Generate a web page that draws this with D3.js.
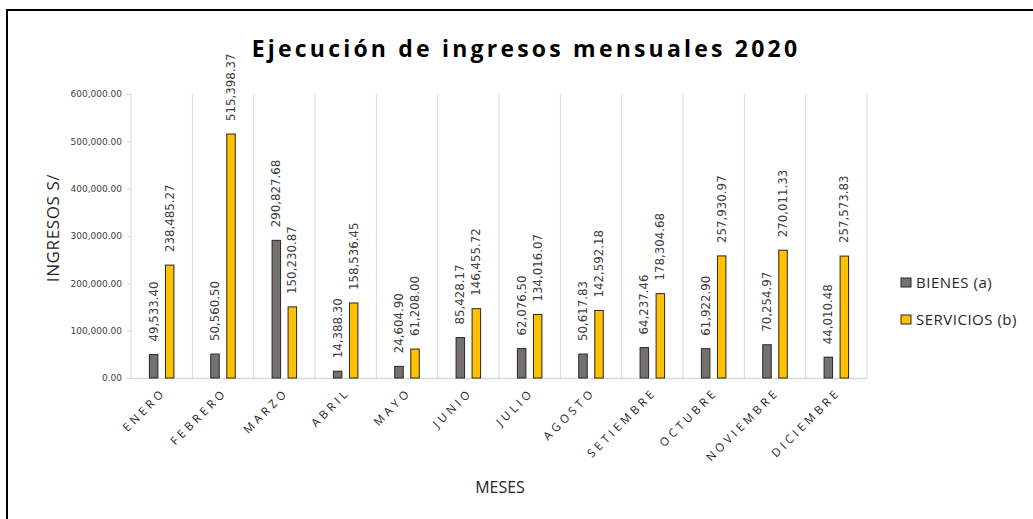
<!DOCTYPE html>
<html>
<head>
<meta charset="utf-8">
<script src="https://cdn.jsdelivr.net/npm/d3@7"></script>
<style>
  html, body { margin: 0; padding: 0; background: #fff; }
  svg { display: block; }
</style>
</head>
<body>
<div id="chart"></div>
<script>
// valores
var meses = ["ENERO", "FEBRERO", "MARZO", "ABRIL", "MAYO", "JUNIO", "JULIO", "AGOSTO", "SETIEMBRE", "OCTUBRE", "NOVIEMBRE", "DICIEMBRE"];
var bienes = [49533.40, 50560.50, 290827.68, 14388.30, 24604.90, 85428.17, 62076.50, 50617.83, 64237.46, 61922.90, 70254.97, 44010.48];
var servicios = [238485.27, 515398.37, 150230.87, 158536.45, 61208.00, 146455.72, 134016.07, 142592.18, 178304.68, 257930.97, 270011.33, 257573.83];
var series = ["BIENES (a)", "SERVICIOS (b)"];
var colores = ["#767171", "#FFC000"];
var yTicks = [0, 100000, 200000, 300000, 400000, 500000, 600000];

var width = 1033, height = 519;
var plot = {left: 131, right: 867, top: 94, bottom: 378};

var svg = d3.select("#chart").append("svg")
    .attr("width", width)
    .attr("height", height);

// marco exterior
svg.append("rect")
    .attr("x", 7).attr("y", 10)
    .attr("width", width + 20).attr("height", height + 20)
    .attr("fill", "#fff")
    .attr("stroke", "#000")
    .attr("stroke-width", 2);

var x0 = d3.scaleBand()
    .domain(meses)
    .range([plot.left, plot.right]);

var x1 = d3.scaleBand()
    .domain(series)
    .range([0, x0.bandwidth()])
    .paddingInner(0.47)
    .paddingOuter(1.15);

var y = d3.scaleLinear()
    .domain([0, 600000])
    .range([plot.bottom, plot.top]);

// lineas verticales entre categorias
svg.append("g")
  .selectAll("line")
  .data(d3.range(meses.length + 1))
  .enter().append("line")
    .attr("x1", function(i) { return plot.left + i * x0.step(); })
    .attr("x2", function(i) { return plot.left + i * x0.step(); })
    .attr("y1", plot.top)
    .attr("y2", plot.bottom)
    .attr("stroke", "#d9d9d9")
    .attr("stroke-width", 1);

// eje y
var yAxis = d3.axisLeft(y)
    .tickValues(yTicks)
    .tickFormat(d3.format(",.2f"))
    .tickSizeInner(4)
    .tickSizeOuter(0)
    .tickPadding(5);

var gy = svg.append("g")
    .attr("transform", "translate(" + plot.left + ",0)")
    .call(yAxis);
gy.select(".domain").remove();
gy.selectAll(".tick line").attr("stroke", "#d9d9d9");
gy.selectAll(".tick text")
    .attr("fill", "#404040")
    .style("font-family", "DejaVu Sans")
    .style("font-size", "9px");

// eje x
var xAxis = d3.axisBottom(x0).tickSize(0).tickFormat("");
var gx = svg.append("g")
    .attr("transform", "translate(0," + plot.bottom + ")")
    .call(xAxis);
gx.select(".domain").attr("stroke", "#d9d9d9").attr("stroke-width", 1.5);

svg.append("g")
  .selectAll("text")
  .data(meses)
  .enter().append("text")
    .attr("transform", function(d) {
      return "translate(" + (x0(d) + x0.bandwidth() / 2 + 5) + "," + (plot.bottom + 15) + ") rotate(-45)";
    })
    .attr("text-anchor", "end")
    .attr("fill", "#262626")
    .style("font-family", "Open Sans")
    .style("font-size", "11.5px")
    .style("letter-spacing", "3.6px")
    .text(function(d) { return d; });

// barras
var datos = meses.map(function(m, i) {
  return {mes: m, valores: [
    {serie: series[0], v: bienes[i], c: colores[0]},
    {serie: series[1], v: servicios[i], c: colores[1]}
  ]};
});

var grupos = svg.append("g")
  .selectAll("g")
  .data(datos)
  .enter().append("g")
    .attr("transform", function(d) { return "translate(" + x0(d.mes) + ",0)"; });

grupos.selectAll("rect")
  .data(function(d) { return d.valores; })
  .enter().append("rect")
    .attr("x", function(d) { return x1(d.serie); })
    .attr("y", function(d) { return y(d.v); })
    .attr("width", x1.bandwidth())
    .attr("height", function(d) { return plot.bottom - y(d.v); })
    .attr("fill", function(d) { return d.c; })
    .attr("stroke", "#262626")
    .attr("stroke-width", 1);

grupos.selectAll("text")
  .data(function(d) { return d.valores; })
  .enter().append("text")
    .attr("transform", function(d) {
      return "translate(" + (x1(d.serie) + x1.bandwidth() / 2) + "," + (y(d.v) - 13) + ") rotate(-90)";
    })
    .attr("dy", "0.35em")
    .attr("text-anchor", "start")
    .attr("fill", "#404040")
    .style("font-family", "DejaVu Sans")
    .style("font-size", "11.8px")
    .text(function(d) { return d3.format(",.2f")(d.v); });

// titulo
svg.append("text")
    .attr("x", 526)
    .attr("y", 57)
    .attr("text-anchor", "middle")
    .attr("fill", "#000")
    .style("font-family", "Open Sans")
    .style("font-weight", "bold")
    .style("font-size", "23px")
    .style("letter-spacing", "3.2px")
    .text("Ejecución de ingresos mensuales 2020");

// titulos de ejes
svg.append("text")
    .attr("transform", "translate(59,228) rotate(-90)")
    .attr("text-anchor", "middle")
    .attr("fill", "#262626")
    .style("font-family", "Open Sans")
    .style("font-size", "17px")
    .style("letter-spacing", "0.6px")
    .text("INGRESOS S/");

svg.append("text")
    .attr("x", 500)
    .attr("y", 493)
    .attr("text-anchor", "middle")
    .attr("fill", "#262626")
    .style("font-family", "Open Sans")
    .style("font-size", "16px")
    .text("MESES");

// leyenda
var leyenda = svg.append("g")
  .selectAll("g")
  .data(series)
  .enter().append("g")
    .attr("transform", function(d, i) { return "translate(901," + (278 + i * 37) + ")"; });

leyenda.append("rect")
    .attr("width", 10).attr("height", 9)
    .attr("fill", function(d, i) { return colores[i]; })
    .attr("stroke", "#262626")
    .attr("stroke-width", 1);

leyenda.append("text")
    .attr("x", 15)
    .attr("y", 9.5)
    .attr("fill", "#262626")
    .style("font-family", "Open Sans")
    .style("font-size", "15px")
    .style("letter-spacing", "0.5px")
    .text(function(d) { return d; });
</script>
</body>
</html>
